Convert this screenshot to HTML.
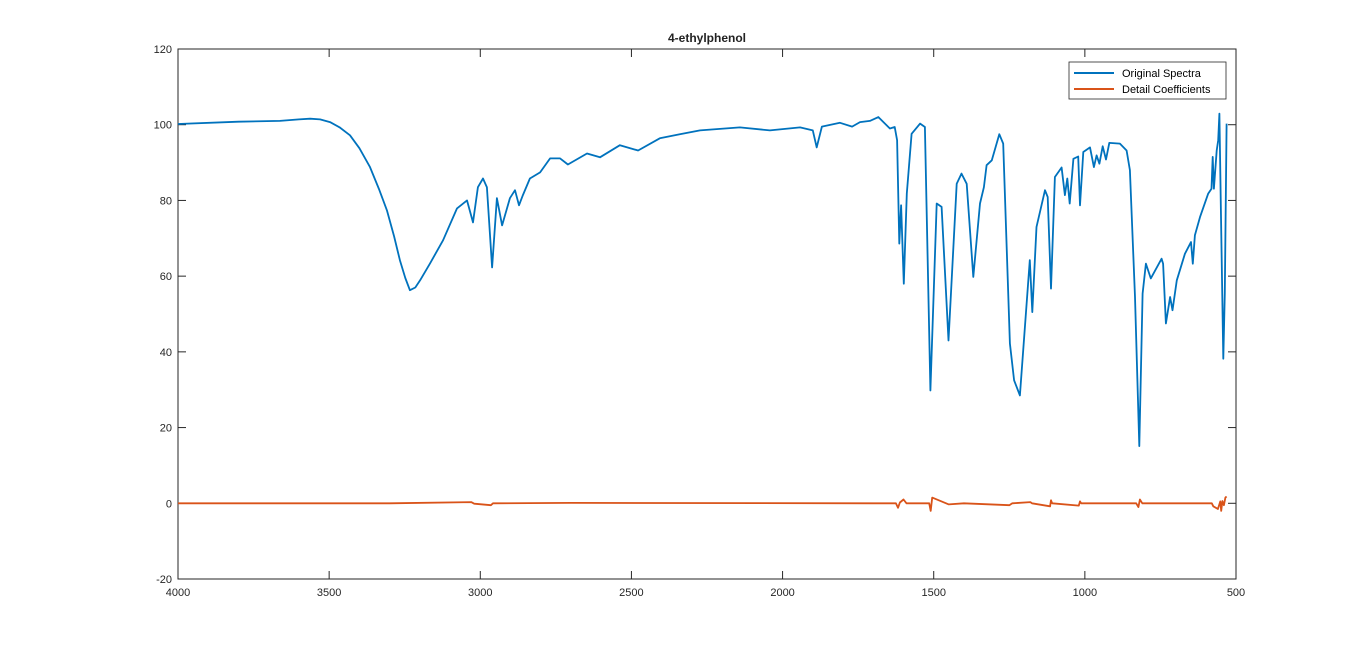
<!DOCTYPE html>
<html><head><meta charset="utf-8"><style>
body{margin:0;background:#fff;width:1366px;height:651px;overflow:hidden;font-family:"Liberation Sans",sans-serif}
text{font-family:"Liberation Sans",sans-serif}
</style></head><body>
<svg id="chart" width="1366" height="651">
<text x="707" y="42" text-anchor="middle" font-size="12" font-weight="bold" fill="#222">4-ethylphenol</text>
<g id="axes"></g>
<g id="series"></g>
<g>
<rect x="1069" y="62" width="157" height="37" fill="#fff" stroke="#262626" stroke-width="0.8"/>
<line x1="1074" y1="73" x2="1114" y2="73" stroke="#0072BD" stroke-width="2"/>
<text x="1122" y="77" font-size="11" fill="#000">Original Spectra</text>
<line x1="1074" y1="89" x2="1114" y2="89" stroke="#D95319" stroke-width="2"/>
<text x="1122" y="93" font-size="11" fill="#000">Detail Coefficients</text>
</g>
</svg>
<script>
const xTicks=[4000,3500,3000,2500,2000,1500,1000,500];
const yTicks=[-20,0,20,40,60,80,100,120];
const specWn=[4000,3800,3663,3600,3563,3530,3497,3465,3431,3400,3365,3335,3309,3285,3266,3248,3233,3215,3199,3166,3123,3077,3044,3024,3008,2991,2978,2961,2945,2928,2902,2885,2872,2859,2836,2802,2769,2736,2710,2647,2604,2538,2478,2406,2340,2273,2141,2042,1942,1900,1887,1870,1810,1770,1744,1711,1683,1645,1629,1621,1614,1608,1599,1589,1573,1545,1529,1511,1490,1474,1451,1424,1408,1391,1369,1347,1334,1325,1308,1283,1270,1248,1234,1215,1182,1174,1160,1132,1123,1112,1099,1077,1066,1058,1050,1038,1022,1016,1005,983,970,961,952,941,930,919,884,862,851,834,820,809,798,782,746,741,732,718,710,696,669,649,643,636,619,592,581,577,573,564,559,555,550,542,537,531];
const specVal=[100.2,100.8,101,101.4,101.6,101.4,100.7,99.3,97.2,93.8,88.8,83,77.4,70.5,64.2,59.5,56.3,57,58.9,63.4,69.5,77.9,80,74.2,83.5,85.8,83.5,62.3,80.6,73.4,80.6,82.7,78.7,81.4,85.8,87.4,91.1,91.1,89.5,92.4,91.4,94.6,93.2,96.4,97.5,98.5,99.3,98.5,99.3,98.5,94,99.5,100.5,99.5,100.7,101,102,99,99.4,95.9,68.6,78.7,58,81.8,97.6,100.3,99.4,29.8,79.2,78.3,43,84.4,87.1,84.4,59.8,79.2,83.5,89.3,90.6,97.5,95,42.2,32.5,28.5,64.2,50.5,73,82.7,80.9,56.7,86.2,88.7,81.4,85.8,79.2,91,91.6,78.7,92.8,94,88.8,91.9,89.7,94.3,90.8,95.2,95,93.2,88,54.5,15.1,55.4,63.3,59.4,64.6,63.3,47.5,54.5,51,58.9,65.9,69,63.3,70.8,75.6,81.8,83.1,91.5,83.1,93.2,95.9,102.9,77.4,38.2,55.5,100.3];
const detWn=[4000,3300,3030,3020,2965,2958,2700,1700,1625,1618,1612,1600,1590,1515,1510,1505,1450,1400,1250,1240,1180,1175,1115,1112,1108,1020,1016,1012,830,823,818,810,580,575,560,552,549,545,540,535,531];
const detVal=[0,0,0.3,-0.1,-0.5,0,0.1,0,0,-1.2,0.2,1,0,0,-2,1.5,-0.3,0,-0.5,0,0.3,0,-0.8,0.8,0,-0.6,0.5,0,0,-1,1,0,0,-0.8,-1.5,0.5,-2,0.6,-0.5,1.5,1.8];
const L=178,R=1236,T=49,B=579;
const xs=v=>L+(4000-v)/3500*(R-L);
const ys=v=>B-(v+20)/140*(B-T);
const NS='http://www.w3.org/2000/svg';
const ax=document.getElementById('axes'),se=document.getElementById('series');
function mk(tag,attrs,parent){const e=document.createElementNS(NS,tag);for(const k in attrs)e.setAttribute(k,attrs[k]);parent.appendChild(e);return e;}
const box=mk('rect',{x:L,y:T,width:R-L,height:B-T,fill:'none',stroke:'#262626','stroke-width':1},ax);


xTicks.forEach(t=>{const x=xs(t);
mk('line',{x1:x,y1:B,x2:x,y2:B-8,stroke:'#262626'},ax);
mk('line',{x1:x,y1:T,x2:x,y2:T+8,stroke:'#262626'},ax);
const tx=mk('text',{x:x,y:B+17,'text-anchor':'middle','font-size':11,fill:'#262626'},ax);tx.textContent=t;

});
yTicks.forEach(t=>{const y=ys(t);
mk('line',{x1:L,y1:y,x2:L+8,y2:y,stroke:'#262626'},ax);
mk('line',{x1:R,y1:y,x2:R-8,y2:y,stroke:'#262626'},ax);
const tx=mk('text',{x:L-6,y:y+4,'text-anchor':'end','font-size':11,fill:'#262626'},ax);tx.textContent=t;

});
function line(w,v,c,n){const p=mk('polyline',{points:w.map((x,i)=>xs(x).toFixed(1)+','+ys(v[i]).toFixed(1)).join(' '),fill:'none',stroke:c,'stroke-width':1.8,'stroke-linejoin':'round'},se);

}
line(detWn,detVal,'#D95319','detail-coefficients-line');
line(specWn,specVal,'#0072BD','original-spectra-line');
</script>
</body></html>
